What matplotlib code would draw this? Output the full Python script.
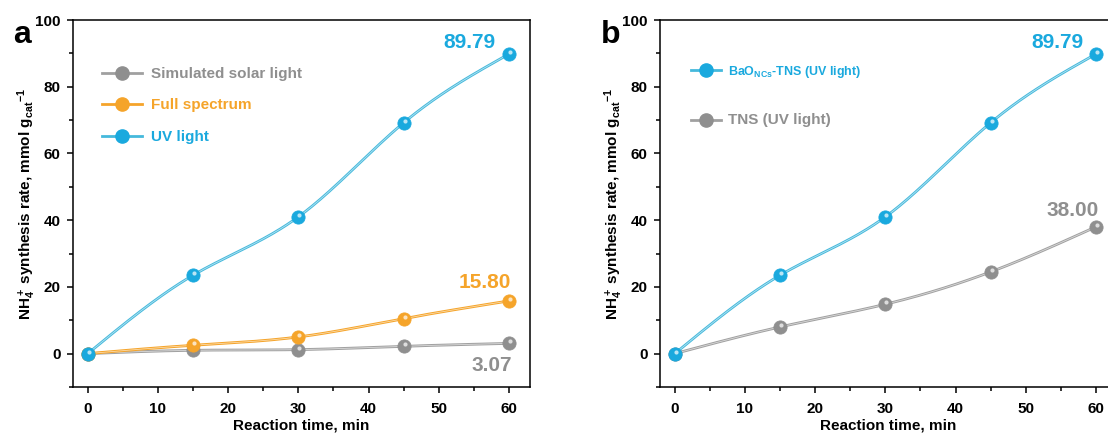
import numpy as np
import matplotlib
matplotlib.use("Agg")
import matplotlib.pyplot as plt
from matplotlib.lines import Line2D
from matplotlib.ticker import MultipleLocator
import matplotlib.transforms as mtransforms

plt.rcParams['font.family'] = ['Liberation Sans', 'DejaVu Sans']
plt.rcParams['font.weight'] = 'bold'
plt.rcParams['mathtext.fontset'] = 'custom'
plt.rcParams['mathtext.rm'] = 'Liberation Sans:bold'
plt.rcParams['mathtext.bf'] = 'Liberation Sans:bold'
plt.rcParams['mathtext.it'] = 'Liberation Sans:bold'
plt.rcParams['mathtext.default'] = 'bf'
plt.rcParams['axes.linewidth'] = 1.1

# данные
time_min = [0, 15, 30, 45, 60]
solar = [0, 1.0, 1.2, 2.2, 3.07]
full_spec = [0, 2.5, 5.0, 10.5, 15.80]
uv_light = [0, 23.5, 41.0, 69.2, 89.79]
tns_uv = [0, 8.0, 14.8, 24.5, 38.00]

c_blue = '#1aa9de'
c_blue_ln = '#45b9dc'
c_orange = '#f5a42a'
c_gray = '#8f8f8f'
c_gray_ln = '#a0a0a0'


def spline(x, y, n=200):
    # натуральный кубический сплайн для гладкой линии
    x = np.asarray(x, float)
    y = np.asarray(y, float)
    k = len(x)
    h = np.diff(x)
    A = np.zeros((k, k))
    b = np.zeros(k)
    A[0, 0] = A[-1, -1] = 1
    for i in range(1, k - 1):
        A[i, i - 1] = h[i - 1]
        A[i, i] = 2 * (h[i - 1] + h[i])
        A[i, i + 1] = h[i]
        b[i] = 6 * ((y[i + 1] - y[i]) / h[i] - (y[i] - y[i - 1]) / h[i - 1])
    M = np.linalg.solve(A, b)
    xs = np.linspace(x[0], x[-1], n)
    idx = np.clip(np.searchsorted(x, xs) - 1, 0, k - 2)
    x0, x1 = x[idx], x[idx + 1]
    hh = x1 - x0
    ys = (M[idx] * (x1 - xs) ** 3 / (6 * hh) + M[idx + 1] * (xs - x0) ** 3 / (6 * hh)
          + (y[idx] / hh - M[idx] * hh / 6) * (x1 - xs)
          + (y[idx + 1] / hh - M[idx + 1] * hh / 6) * (xs - x0))
    return xs, ys


def draw_series(ax, fig, x, y, col, lcol, z):
    xs, ys = spline(x, y)
    ax.plot(xs, ys, color=lcol, lw=2.0, zorder=z, solid_capstyle='round')
    ax.plot(xs, ys, color='white', lw=0.6, alpha=0.6, zorder=z + 0.1)
    ax.plot(x, y, 'o', color=col, ms=9.5, mec=col, mew=0.6, zorder=z + 0.2)
    hl = mtransforms.offset_copy(ax.transData, fig=fig, x=0.8, y=1.5, units='points')
    ax.plot(x, y, 'o', color='white', ms=3.0, mew=0, alpha=0.7, transform=hl, zorder=z + 0.3)


def sphere_handle(col, lcol):
    return Line2D([], [], color=lcol, lw=2.0, marker='o', ms=9.5, mfc=col, mec=col)


def style_axes(ax, letter):
    ax.set_xlim(-2.1, 63)
    ax.set_ylim(-10, 100)
    ax.xaxis.set_major_locator(MultipleLocator(10))
    ax.xaxis.set_minor_locator(MultipleLocator(5))
    ax.yaxis.set_major_locator(MultipleLocator(20))
    ax.yaxis.set_minor_locator(MultipleLocator(10))
    ax.tick_params(which='major', direction='out', length=4.5, width=1.1, labelsize=11, pad=4.5)
    ax.tick_params(which='minor', direction='out', length=2.7, width=1.1)
    ax.tick_params(axis='x', which='major', pad=6)
    for lab in ax.get_xticklabels() + ax.get_yticklabels():
        lab.set_fontweight('bold')
    ax.set_xlabel('Reaction time, min', fontsize=11, fontweight='bold', labelpad=2)
    ax.set_ylabel(r'NH$_4^+$ synthesis rate, mmol g$_{cat}$$^{-1}$', fontsize=11, fontweight='bold')
    ax.yaxis.set_label_coords(-0.077, 0.5)
    ax.text(-0.13, 1.0, letter, transform=ax.transAxes, fontsize=23, fontweight='bold',
            ha='left', va='top')


fig = plt.figure(figsize=(11.08, 4.36), dpi=100)
ax1 = fig.add_axes([0.0659, 0.1124, 0.4124, 0.8417])
ax2 = fig.add_axes([0.5957, 0.1124, 0.4124, 0.8417])

# панель a
draw_series(ax1, fig, time_min, solar, c_gray, c_gray_ln, 3)
draw_series(ax1, fig, time_min, full_spec, c_orange, c_orange, 4)
draw_series(ax1, fig, time_min, uv_light, c_blue, c_blue_ln, 5)
style_axes(ax1, 'a')
ax1.text(54.4, 93.3, f'{uv_light[-1]:.2f}', color=c_blue, fontsize=15, fontweight='bold', ha='center', va='center')
ax1.text(56.6, 21.3, f'{full_spec[-1]:.2f}', color=c_orange, fontsize=15, fontweight='bold', ha='center', va='center')
ax1.text(57.5, -3.6, f'{solar[-1]:.2f}', color=c_gray, fontsize=15, fontweight='bold', ha='center', va='center')
leg1 = ax1.legend([sphere_handle(c_gray, c_gray_ln), sphere_handle(c_orange, c_orange),
                   sphere_handle(c_blue, c_blue_ln)],
                  ['Simulated solar light', 'Full spectrum', 'UV light'],
                  loc='upper left', bbox_to_anchor=(0.05, 0.889), frameon=False,
                  handlelength=2.6, handletextpad=0.6, labelspacing=1.15,
                  prop={'size': 11, 'weight': 'bold'}, borderaxespad=0)
for t, c in zip(leg1.get_texts(), [c_gray, c_orange, c_blue]):
    t.set_color(c)

# панель b
draw_series(ax2, fig, time_min, tns_uv, c_gray, c_gray_ln, 3)
draw_series(ax2, fig, time_min, uv_light, c_blue, c_blue_ln, 5)
style_axes(ax2, 'b')
ax2.text(54.5, 93.3, f'{uv_light[-1]:.2f}', color=c_blue, fontsize=15, fontweight='bold', ha='center', va='center')
ax2.text(56.7, 43.0, f'{tns_uv[-1]:.2f}', color=c_gray, fontsize=15, fontweight='bold', ha='center', va='center')
leg2 = ax2.legend([sphere_handle(c_blue, c_blue_ln), sphere_handle(c_gray, c_gray_ln)],
                  [r'BaO$_{NCs}$-TNS (UV light)', 'TNS (UV light)'],
                  loc='upper left', bbox_to_anchor=(0.055, 0.895), frameon=False,
                  handlelength=2.2, handletextpad=0.5, labelspacing=2.4,
                  borderaxespad=0)
for t, c, s in zip(leg2.get_texts(), [c_blue, c_gray], [9, 11]):
    t.set_color(c)
    t.set_fontsize(s)
    t.set_fontweight('bold')

fig.savefig('out.png', dpi=100)
